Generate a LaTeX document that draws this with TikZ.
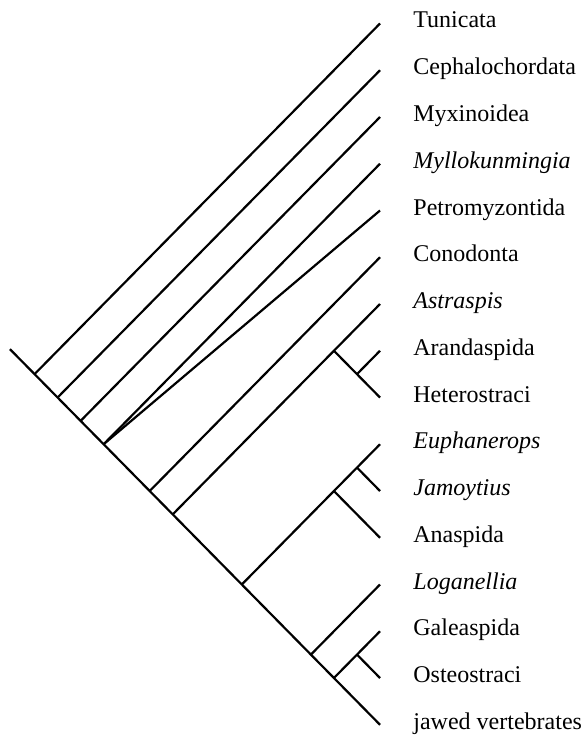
\documentclass[tikz,border=0pt]{standalone}
\usepackage{fontspec}
\setmainfont{Liberation Serif}
\usetikzlibrary{positioning}
\tikzset{
  br/.style={line width=1.1pt},
  taxon/.style={anchor=base west, inner sep=0pt, xshift=16.5pt, yshift=-2.25pt, font=\fontsize{12pt}{14pt}\selectfont},
}

\begin{document}
\begin{tikzpicture}[x=0.5pt, y=-0.5pt]
  \useasboundingbox (0,0) rectangle (583,738);
  \coordinate (tTun) at (380,23.5);
  \coordinate (tCep) at (380,70.25);
  \coordinate (tMyx) at (380,117);
  \coordinate (tMyl) at (380,163.75);
  \coordinate (tPet) at (380,210.5);
  \coordinate (tCon) at (380,257.25);
  \coordinate (tAst) at (380,304);
  \coordinate (tAra) at (380,350.75);
  \coordinate (tHet) at (380,397.5);
  \coordinate (tEup) at (380,444.25);
  \coordinate (tJam) at (380,491);
  \coordinate (tAna) at (380,537.75);
  \coordinate (tLog) at (380,584.5);
  \coordinate (tGal) at (380,631.25);
  \coordinate (tOst) at (380,678);
  \coordinate (tJaw) at (380,724.75);
  \coordinate (root) at (10,349.2);
  \coordinate (n1) at (34.6,374.1);
  \coordinate (n2) at (57.6,397.5);
  \coordinate (n3) at (80.6,420.9);
  \coordinate (n4) at (103.6,444.25);
  \coordinate (n5) at (149.7,491);
  \coordinate (n6) at (172.7,514.4);
  \coordinate (n7) at (241.8,584.5);
  \coordinate (n8) at (310.9,654.6);
  \coordinate (n9) at (333.9,678);
  \coordinate (a1) at (333.9,350.75);
  \coordinate (a2) at (357.0,374.1);
  \coordinate (c1) at (333.9,491);
  \coordinate (c2) at (357.0,467.6);
  \coordinate (g1) at (357.0,654.6);
  \draw[br] (root) -- (tJaw);
  \draw[br] (n1) -- (tTun);
  \draw[br] (n2) -- (tCep);
  \draw[br] (n3) -- (tMyx);
  \draw[br] (n4) -- (tMyl);
  \draw[br] (n4) -- (tPet);
  \draw[br] (n5) -- (tCon);
  \draw[br] (n6) -- (tAst);
  \draw[br] (a1) -- (tHet);
  \draw[br] (a2) -- (tAra);
  \draw[br] (n7) -- (tEup);
  \draw[br] (c1) -- (tAna);
  \draw[br] (c2) -- (tJam);
  \draw[br] (n8) -- (tLog);
  \draw[br] (n9) -- (tGal);
  \draw[br] (g1) -- (tOst);
  \node[taxon] (lTun) at (tTun) {Tunicata};
  \node[taxon] (lCep) at (tCep) {Cephalochordata};
  \node[taxon] (lMyx) at (tMyx) {Myxinoidea};
  \node[taxon] (lMyl) at (tMyl) {\itshape Myllokunmingia};
  \node[taxon] (lPet) at (tPet) {Petromyzontida};
  \node[taxon] (lCon) at (tCon) {Conodonta};
  \node[taxon] (lAst) at (tAst) {\itshape Astraspis};
  \node[taxon] (lAra) at (tAra) {Arandaspida};
  \node[taxon] (lHet) at (tHet) {Heterostraci};
  \node[taxon] (lEup) at (tEup) {\itshape Euphanerops};
  \node[taxon] (lJam) at (tJam) {\itshape Jamoytius};
  \node[taxon] (lAna) at (tAna) {Anaspida};
  \node[taxon] (lLog) at (tLog) {\itshape Loganellia};
  \node[taxon] (lGal) at (tGal) {Galeaspida};
  \node[taxon] (lOst) at (tOst) {Osteostraci};
  \node[taxon] (lJaw) at (tJaw) {jawed vertebrates};
\end{tikzpicture}
\end{document}
